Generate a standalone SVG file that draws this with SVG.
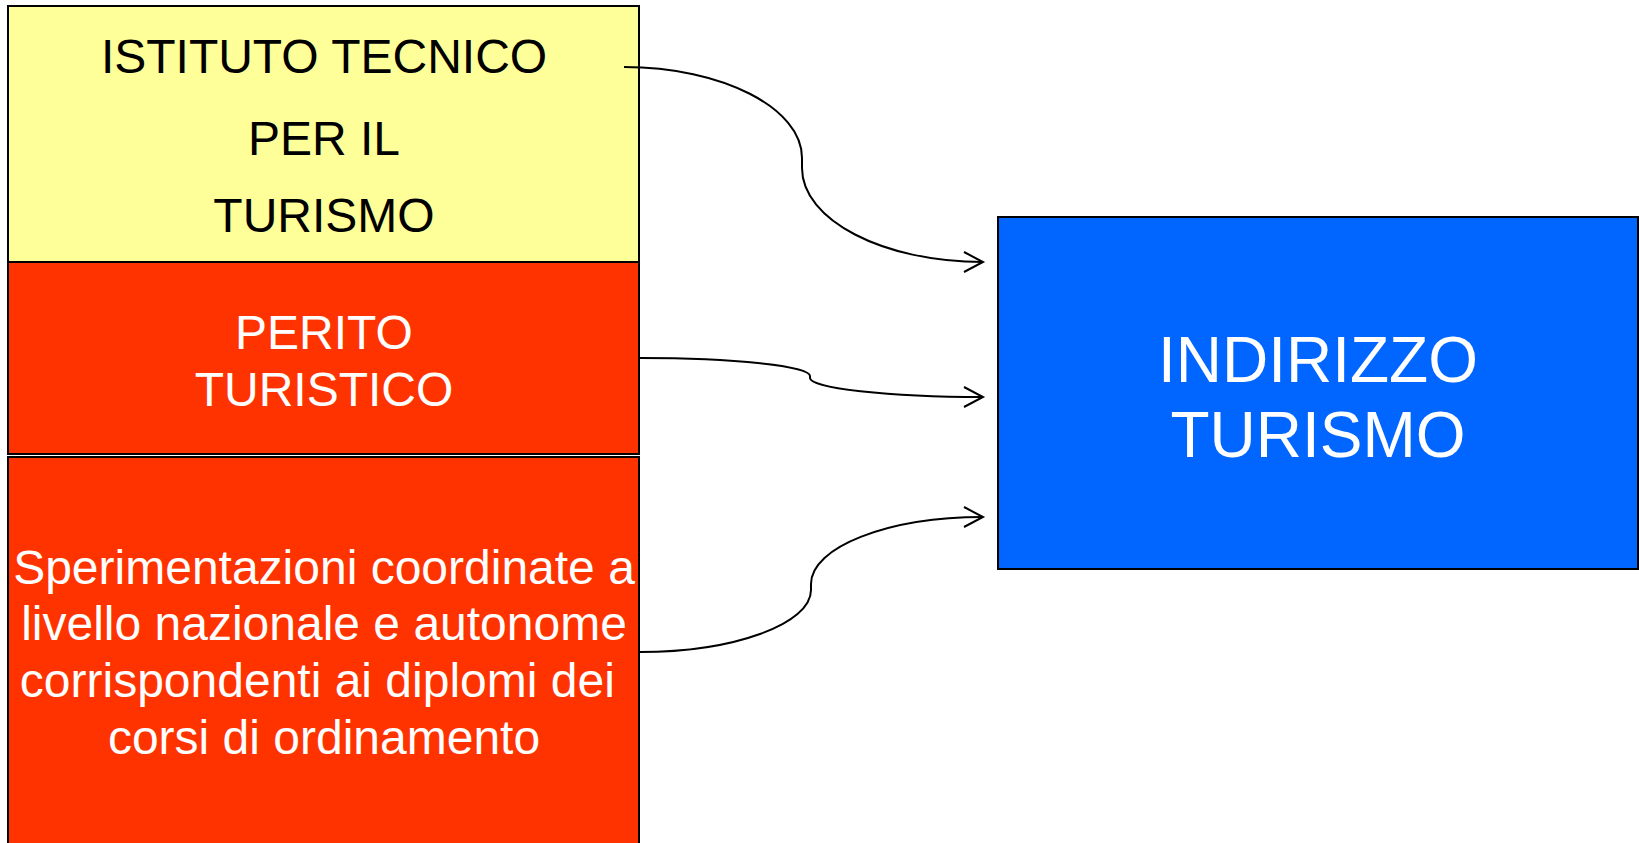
<svg xmlns="http://www.w3.org/2000/svg" width="1639" height="843" viewBox="0 0 1639 843">
  <style>
    .box { stroke: #000; stroke-width: 2; }
    .lbl { font-family: "Liberation Sans", Arial, sans-serif; text-anchor: middle; }
    .dark { fill: #000; font-size: 48px; }
    .light { fill: #fff; font-size: 48px; }
    .big { fill: #fff; font-size: 64px; }
    .conn { fill: none; stroke: #000; stroke-width: 2; }
  </style>
  <defs>
    <marker id="openArrow" markerUnits="userSpaceOnUse" markerWidth="24" markerHeight="24" viewBox="-20 -12 24 24" refX="0" refY="0" orient="auto" overflow="visible">
      <path d="M-19,-10 L0,0 L-19,10" fill="none" stroke="#000" stroke-width="2"/>
    </marker>
  </defs>
  <rect width="1639" height="843" fill="#fff"/>

  <g id="istituto-tecnico">
    <rect class="box" x="8" y="6" width="631" height="256" fill="#FFFF99"/>
    <text class="lbl dark" x="324" y="73">ISTITUTO TECNICO</text>
    <text class="lbl dark" x="324" y="155">PER IL</text>
    <text class="lbl dark" x="324" y="232">TURISMO</text>
  </g>

  <g id="perito-turistico">
    <rect class="box" x="8" y="262" width="631" height="192" fill="#FF3300"/>
    <text class="lbl light" x="324" y="349">PERITO</text>
    <text class="lbl light" x="324" y="406">TURISTICO</text>
  </g>

  <g id="sperimentazioni">
    <rect class="box" x="8" y="457" width="631" height="400" fill="#FF3300"/>
    <text class="lbl light" x="324" y="584">Sperimentazioni coordinate a</text>
    <text class="lbl light" x="324" y="640">livello nazionale e autonome</text>
    <text class="lbl light" x="324" y="697" xml:space="preserve">corrispondenti ai diplomi dei </text>
    <text class="lbl light" x="324" y="754">corsi di ordinamento</text>
  </g>

  <g id="indirizzo-turismo">
    <rect class="box" x="998" y="217" width="640" height="352" fill="#0066FF"/>
    <text class="lbl big" x="1318" y="382">INDIRIZZO</text>
    <text class="lbl big" x="1318" y="457">TURISMO</text>
  </g>

  <g id="connectors">
    <path class="conn" marker-end="url(#openArrow)" d="M624,67 C722,67 802,108 802,158 L802,168 C802,220 883,262 983,262"/>
    <path class="conn" marker-end="url(#openArrow)" d="M640,358 C734,358 810,366 810,376 L810,378 C810,388 887,397 983,397"/>
    <path class="conn" marker-end="url(#openArrow)" d="M640,652 C734,652 811,624 811,590 L811,584 C811,547 888,517 983,517"/>
  </g>
</svg>
